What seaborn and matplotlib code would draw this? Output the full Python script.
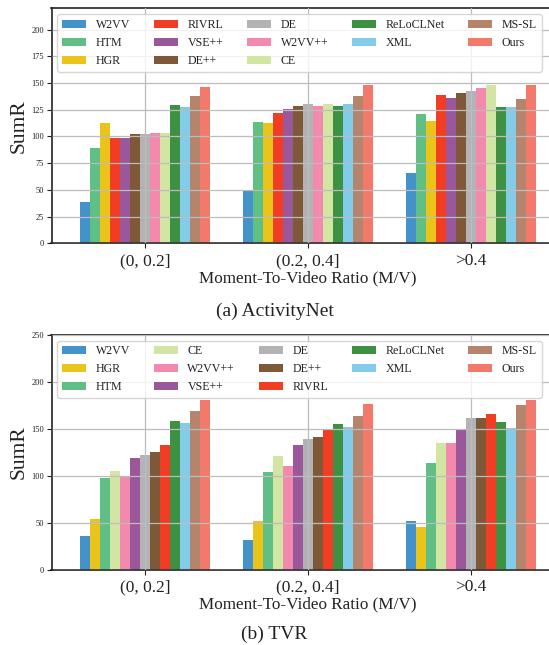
import matplotlib
matplotlib.use("Agg")
import matplotlib.pyplot as plt
import seaborn as sns
import pandas as pd

# Moment-to-video ratio buckets
ratios = ["(0, 0.2]", "(0.2, 0.4]", ">0.4"]

# ActivityNet SumR per method, one list per ratio bucket
anet_methods = ["W2VV", "HTM", "HGR", "RIVRL", "VSE++", "DE++", "DE",
                "W2VV++", "CE", "ReLoCLNet", "XML", "MS-SL", "Ours"]
anet_low = [39, 89, 113, 99, 99, 102, 102, 103.5, 103.5, 129.5, 128, 138, 146.5]
anet_mid = [50, 114, 113, 122, 126, 129, 130, 129, 130.5, 129, 130, 138, 148.5]
anet_high = [66, 121, 114.5, 139, 136, 141, 143, 145.5, 148.5, 128, 128, 135.5, 148.5]

# TVR SumR per method, one list per ratio bucket
tvr_methods = ["W2VV", "HGR", "HTM", "CE", "W2VV++", "VSE++", "DE", "DE++",
               "RIVRL", "ReLoCLNet", "XML", "MS-SL", "Ours"]
tvr_low = [36, 54, 98, 105, 99, 119, 122, 125.5, 133, 158.5, 156, 169, 181]
tvr_mid = [32, 52, 104, 121, 110.5, 133, 139, 141.5, 150, 155, 152, 164, 176.5]
tvr_high = [52, 45.5, 113, 135, 135, 150, 161.5, 161.5, 166, 157, 151, 175.5, 181]

method_colors = {
    "W2VV": "#4392c9",
    "HTM": "#5fbf84",
    "HGR": "#eac41b",
    "RIVRL": "#f03d23",
    "VSE++": "#9b579b",
    "DE++": "#7f5937",
    "DE": "#b3b3b6",
    "W2VV++": "#f38aad",
    "CE": "#d3e5a3",
    "ReLoCLNet": "#3e9142",
    "XML": "#82ccea",
    "MS-SL": "#b5846c",
    "Ours": "#f3796b",
}

sns.set_theme(style="ticks")
plt.rcParams["font.family"] = ["Liberation Serif", "DejaVu Serif"]

fig = plt.figure(figsize=(5.49, 6.45), dpi=100)

W, H = 549.0, 645.0
ax_left = 51.5 / W
ax_width = 3.15 * 162.85 / W
ax_height = 235.0 / H


def draw_panel(ax, methods, low, mid, high, yticks, ymax):
    rows = []
    for ratio, vals in zip(ratios, [low, mid, high]):
        for m, v in zip(methods, vals):
            rows.append({"ratio": ratio, "method": m, "SumR": v})
    df = pd.DataFrame(rows)
    sns.barplot(data=df, x="ratio", y="SumR", hue="method",
                order=ratios, hue_order=methods,
                palette=method_colors, saturation=1, width=0.8, gap=0,
                linewidth=0, errorbar=None, ax=ax)
    ax.set_xlim(-0.575, 2.575)
    ax.set_ylim(0, ymax)
    ax.set_yticks(yticks)
    ax.grid(True, color="#bcbcbc", linewidth=0.9)
    ax.set_axisbelow(False)
    for s in ax.spines.values():
        s.set_color("#222222")
        s.set_linewidth(1.2)
    ax.tick_params(axis="y", labelsize=6, length=3.5, width=0.8,
                   colors="#222222", pad=2)
    ax.tick_params(axis="x", labelsize=12.5, length=3.5, width=0.8,
                   colors="#222222", pad=3.5)
    ax.set_ylabel("SumR", fontsize=15.5, color="#222222", labelpad=2)
    ax.set_xlabel("Moment-To-Video Ratio (M/V)", fontsize=12.3,
                  color="#222222", labelpad=1)
    leg = ax.legend(ncol=5, loc="upper left", fontsize=8.6, frameon=True,
                    fancybox=True, framealpha=0.8, edgecolor="#cccccc",
                    handlelength=2.0, handleheight=0.7, columnspacing=2.0)
    leg.set_zorder(5)
    for t in leg.get_texts():
        t.set_color("#222222")


ax_top = fig.add_axes([ax_left, (H - 243.3) / H, ax_width, ax_height])
draw_panel(ax_top, anet_methods, anet_low, anet_mid, anet_high,
           [0, 25, 50, 75, 100, 125, 150, 175, 200], 220)

ax_bot = fig.add_axes([ax_left, (H - 569.7) / H, ax_width, ax_height])
draw_panel(ax_bot, tvr_methods, tvr_low, tvr_mid, tvr_high,
           [0, 50, 100, 150, 200, 250], 250)

fig.text(0.5, 1 - 311 / H, "(a) ActivityNet", ha="center", va="center",
         fontsize=14, color="#222222")
fig.text(0.5, 1 - 634 / H, "(b) TVR", ha="center", va="center",
         fontsize=14, color="#222222")

fig.savefig("out.png", dpi=100)
